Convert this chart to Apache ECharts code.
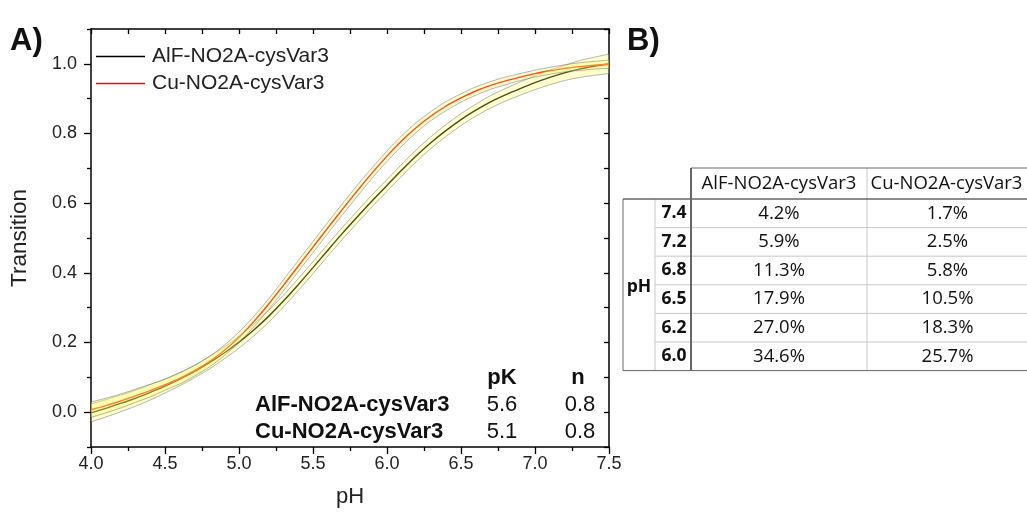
<!DOCTYPE html>
<html>
<head>
<meta charset="utf-8">
<script src="https://cdn.jsdelivr.net/npm/echarts@6/dist/echarts.min.js"></script>
<style>html,body{margin:0;padding:0;background:#fff;}#c{width:1027px;height:513px;}</style>
</head>
<body>
<div id="c"></div>
<script>
// ---- data ----
const pH = [4.0,4.1,4.2,4.3,4.4,4.5,4.6,4.7,4.8,4.9,5.0,5.1,5.2,5.3,5.4,5.5,5.6,5.7,5.8,5.9,6.0,6.1,6.2,6.3,6.4,6.5,6.6,6.7,6.8,6.9,7.0,7.1,7.2,7.3,7.4,7.5];
const alfT = [-0.002,0.011,0.025,0.040,0.057,0.075,0.095,0.117,0.142,0.170,0.201,0.236,0.275,0.319,0.366,0.415,0.465,0.514,0.561,0.607,0.651,0.695,0.737,0.775,0.809,0.840,0.867,0.891,0.911,0.929,0.946,0.961,0.974,0.985,0.993,1.000];
const cuT = [0.007,0.019,0.032,0.047,0.062,0.079,0.097,0.119,0.145,0.177,0.215,0.260,0.310,0.364,0.419,0.474,0.529,0.583,0.636,0.687,0.735,0.779,0.818,0.851,0.879,0.902,0.922,0.938,0.951,0.962,0.972,0.980,0.987,0.992,0.996,0.999];
const alfBand = [0.026,0.025,0.024,0.023,0.022,0.020,0.019,0.018,0.018,0.017,0.017,0.017,0.017,0.017,0.017,0.017,0.017,0.017,0.017,0.017,0.017,0.017,0.017,0.017,0.017,0.017,0.017,0.018,0.018,0.019,0.020,0.021,0.022,0.024,0.026,0.028];
const cuBand = [0.022,0.021,0.020,0.019,0.018,0.016,0.016,0.015,0.015,0.015,0.015,0.015,0.015,0.016,0.016,0.016,0.016,0.016,0.016,0.015,0.015,0.015,0.014,0.013,0.013,0.012,0.012,0.011,0.011,0.010,0.010,0.010,0.010,0.011,0.011,0.012];
const seriesNames = ['AlF-NO2A-cysVar3', 'Cu-NO2A-cysVar3'];
const fitPK = ['5.6', '5.1'];
const fitN = ['0.8', '0.8'];
const yLabelValues = [0, 0.2, 0.4, 0.6, 0.8, 1.0];
const yMinorValues = [-0.1, 0.1, 0.3, 0.5, 0.7, 0.9, 1.1];
const tablePH = ['7.4', '7.2', '6.8', '6.5', '6.2', '6.0'];
const tableAlF = ['4.2%', '5.9%', '11.3%', '17.9%', '27.0%', '34.6%'];
const tableCu = ['1.7%', '2.5%', '5.8%', '10.5%', '18.3%', '25.7%'];

// ---- chart ----
const chart = echarts.init(document.getElementById('c'), null, {renderer: 'canvas'});
const AF = 'Liberation Sans, Arial, sans-serif';
const TF = 'Open Sans, Noto Sans, sans-serif';
const edge = 'rgba(110,110,100,0.5)';
const fill = 'rgba(255,255,100,0.30)';
const lineColors = ['#000000', '#ff0000'];

function band(vals, hw) {
  return {
    type: 'custom', coordinateSystem: 'cartesian2d', clip: true, silent: true, z: 4,
    data: [[pH[0], vals[0]]],
    renderItem: function (params, api) {
      const up = pH.map((p, i) => api.coord([p, vals[i] + hw[i]]));
      const lo = pH.map((p, i) => api.coord([p, vals[i] - hw[i]]));
      return {type: 'group', children: [
        {type: 'polygon', shape: {points: up.concat(lo.slice().reverse())}, style: {fill: fill, stroke: null}},
        {type: 'polyline', shape: {points: up, smooth: 0.3}, style: {stroke: edge, fill: null, lineWidth: 1}},
        {type: 'polyline', shape: {points: lo, smooth: 0.3}, style: {stroke: edge, fill: null, lineWidth: 1}}
      ]};
    }
  };
}

const graphics = [
  {type: 'text', left: 10, top: 26, style: {text: 'A)', font: 'bold 31px ' + AF, fill: '#111'}},
  {type: 'text', left: 627, top: 26, style: {text: 'B)', font: 'bold 31px ' + AF, fill: '#111'}},
  {type: 'text', x: 502, y: 378, style: {text: 'pK', font: 'bold 22px ' + AF, fill: '#111', align: 'center', verticalAlign: 'middle'}},
  {type: 'text', x: 578, y: 378, style: {text: 'n', font: 'bold 22px ' + AF, fill: '#111', align: 'center', verticalAlign: 'middle'}}
];
seriesNames.forEach((nm, i) => {
  const y = 405 + i * 27;
  graphics.push({type: 'text', x: 255, y: y, style: {text: nm, font: 'bold 22px ' + AF, fill: '#111', align: 'left', verticalAlign: 'middle'}});
  graphics.push({type: 'text', x: 502, y: y, style: {text: fitPK[i], font: '22px ' + AF, fill: '#111', align: 'center', verticalAlign: 'middle'}});
  graphics.push({type: 'text', x: 580, y: y, style: {text: fitN[i], font: '22px ' + AF, fill: '#111', align: 'center', verticalAlign: 'middle'}});
});

// table
const X0 = 623, X1 = 655, X2 = 691, X3 = 867, X4 = 1040;
const YT = 168, YH = 199, RH = 28.6, YB = YH + RH * tablePH.length;
const dark = '#666', light = '#c8c8c8';
function ln(x1, y1, x2, y2, c, w) {
  graphics.push({type: 'line', shape: {x1: x1, y1: y1, x2: x2, y2: y2}, style: {stroke: c, lineWidth: w || 1}, z: 10});
}
for (let r = 1; r < tablePH.length; r++) ln(X1, YH + r * RH, X4, YH + r * RH, light);
ln(X1, YH, X1, YB, light);
ln(X3, YT, X3, YB, light);
ln(X2, YT, X4, YT, dark);
ln(X0, YH, X4, YH, dark, 1.5);
ln(X0, YB, X4, YB, dark);
ln(X0, YH, X0, YB, dark);
ln(X2, YT, X2, YB, dark, 2);
const TS = '18.5px ';
graphics.push({type: 'text', x: (X2 + X3) / 2, y: (YT + YH) / 2, z: 11, style: {text: seriesNames[0], font: TS + TF, fill: '#111', align: 'center', verticalAlign: 'middle'}});
graphics.push({type: 'text', x: (X3 + X4) / 2 - 7, y: (YT + YH) / 2, z: 11, style: {text: seriesNames[1], font: TS + TF, fill: '#111', align: 'center', verticalAlign: 'middle'}});
graphics.push({type: 'text', x: (X0 + X1) / 2, y: (YH + YB) / 2 + 2, z: 11, style: {text: 'pH', font: 'bold 17.5px ' + TF, fill: '#111', align: 'center', verticalAlign: 'middle'}});
tablePH.forEach((v, r) => {
  const cy = YH + RH * (r + 0.5);
  graphics.push({type: 'text', x: (X1 + X2) / 2 + 1, y: cy, z: 11, style: {text: v, font: 'bold 17.5px ' + TF, fill: '#111', align: 'center', verticalAlign: 'middle'}});
  graphics.push({type: 'text', x: (X2 + X3) / 2, y: cy, z: 11, style: {text: tableAlF[r], font: TS + TF, fill: '#111', align: 'center', verticalAlign: 'middle'}});
  graphics.push({type: 'text', x: (X3 + X4) / 2 - 6, y: cy, z: 11, style: {text: tableCu[r], font: TS + TF, fill: '#111', align: 'center', verticalAlign: 'middle'}});
});

const axLine = {show: true, onZero: false, lineStyle: {color: '#000', width: 1.5}};
const tk = {color: '#000', width: 1.3};
const option = {
  animation: false,
  backgroundColor: '#fff',
  grid: {left: 89, right: 418, top: 29, bottom: 64, containLabel: false},
  legend: {
    data: seriesNames.map((n, i) => ({name: n, itemStyle: {color: lineColors[i]}})),
    orient: 'vertical', left: 96, top: 46, padding: 0, itemWidth: 49, itemHeight: 14, itemGap: 6,
    textStyle: {fontFamily: AF, fontSize: 21, color: '#222', padding: [0, 0, 0, 2]},
    icon: 'path://M0,0 L49,0 L49,1.3 L0,1.3 Z'
  },
  xAxis: [
    {type: 'value', position: 'bottom', min: 4, max: 7.5, interval: 0.5,
     axisLine: axLine, axisTick: {show: true, inside: false, length: 7, lineStyle: tk},
     minorTick: {show: true, splitNumber: 2, length: 4, lineStyle: tk},
     splitLine: {show: false},
     axisLabel: {formatter: v => v.toFixed(1), fontFamily: AF, fontSize: 18, color: '#222', margin: 8},
     name: 'pH', nameLocation: 'middle', nameGap: 39, nameTextStyle: {fontFamily: AF, fontSize: 22, color: '#222'}},
    {type: 'value', position: 'top', min: 4, max: 7.5, interval: 0.25,
     axisLine: axLine, axisTick: {show: true, inside: true, length: 5, lineStyle: tk},
     axisLabel: {show: false}, splitLine: {show: false}}
  ],
  yAxis: [
    {type: 'value', position: 'left', min: -0.1, max: 1.1, interval: 0.1,
     axisLine: axLine,
     axisTick: {show: true, inside: false, length: 7, customValues: yLabelValues, lineStyle: tk},
     splitLine: {show: false},
     axisLabel: {customValues: yLabelValues, formatter: v => v.toFixed(1), fontFamily: AF, fontSize: 18, color: '#222', margin: 14},
     name: 'Transition', nameLocation: 'middle', nameGap: 60, nameTextStyle: {fontFamily: AF, fontSize: 22.5, color: '#222'}},
    {type: 'value', position: 'left', min: -0.1, max: 1.1, interval: 0.1,
     axisLine: {show: false, onZero: false},
     axisTick: {show: true, inside: false, length: 4, customValues: yMinorValues, lineStyle: tk},
     axisLabel: {show: false}, splitLine: {show: false}},
    {type: 'value', position: 'right', min: -0.1, max: 1.1, interval: 0.1,
     axisLine: axLine, axisTick: {show: true, inside: true, length: 5, lineStyle: tk},
     axisLabel: {show: false}, splitLine: {show: false}}
  ],
  series: [
    {name: seriesNames[0], type: 'line', symbol: 'none', smooth: 0.3, z: 3, color: lineColors[0],
     lineStyle: {color: lineColors[0], width: 1.4}, data: pH.map((p, i) => [p, alfT[i]])},
    {name: seriesNames[1], type: 'line', symbol: 'none', smooth: 0.3, z: 3, color: lineColors[1],
     lineStyle: {color: lineColors[1], width: 1.4}, data: pH.map((p, i) => [p, cuT[i]])},
    band(alfT, alfBand),
    band(cuT, cuBand)
  ],
  graphic: graphics
};
chart.setOption(option);
</script>
</body>
</html>
